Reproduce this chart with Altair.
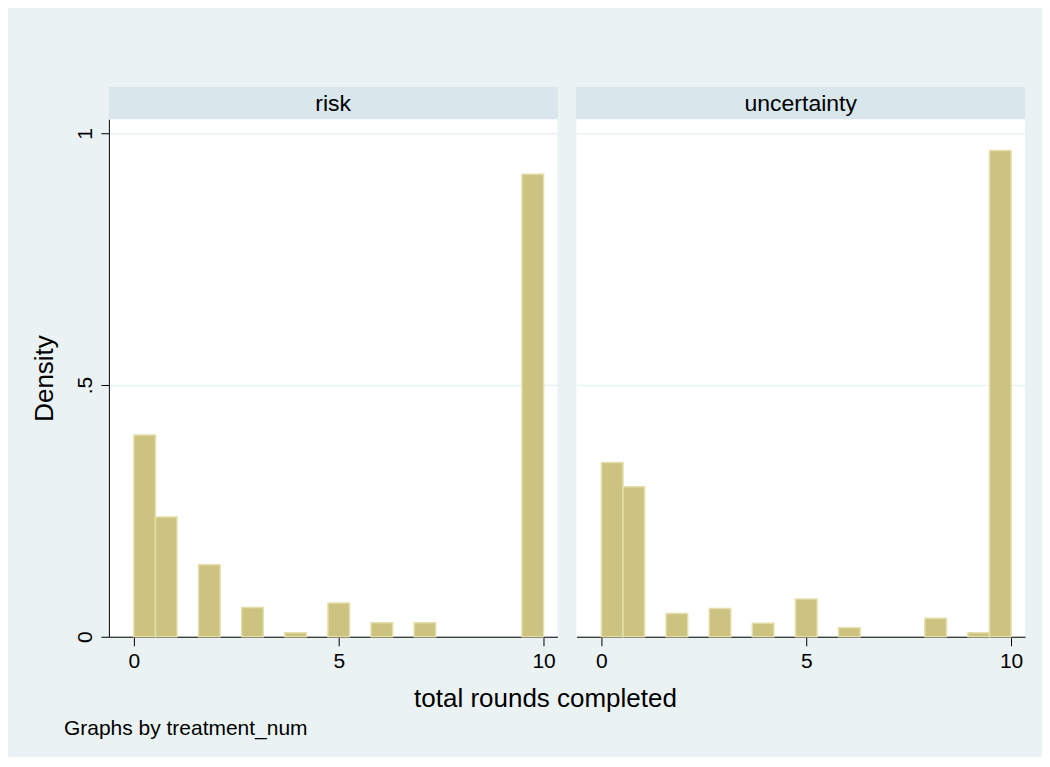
import altair as alt
import pandas as pd

# ---- data ----
panels = ["risk", "uncertainty"]
risk_rounds = [0, 1, 2, 3, 4, 5, 6, 7, 10]
risk_density = [0.401, 0.238, 0.143, 0.058, 0.008, 0.067, 0.028, 0.028, 0.919]
unc_rounds = [0, 1, 2, 3, 4, 5, 6, 8, 9, 10]
unc_density = [0.346, 0.298, 0.046, 0.056, 0.027, 0.075, 0.018, 0.037, 0.008, 0.966]
n_bins = 19
x_min, x_max = 0, 10
x_ticks = [0, 5, 10]
y_ticks = [0, 0.5, 1]
x_title = "total rounds completed"
note_text = "Graphs by treatment_num"

FONT = "Liberation Sans"
BG = "#eaf2f3"
STRIP = "#d9e6eb"
BAR_FILL = "#cbc37f"
BAR_EDGE = "#e4deaa"

PW, PH, SH = 449, 518, 32
width_bin = (x_max - x_min) / n_bins


def hist_frame(rounds, dens):
    rows = []
    for r, d in zip(rounds, dens):
        idx = min(int((r - x_min) // width_bin), n_bins - 1)
        rows.append({"start": x_min + idx * width_bin,
                     "end": x_min + (idx + 1) * width_bin,
                     "density": d})
    return pd.DataFrame(rows)


xscale = alt.Scale(domain=[-0.61, 10.34], nice=False, zero=False)
yscale = alt.Scale(domain=[0, 1.028], nice=False)


def strip(label):
    df = pd.DataFrame({"label": [label]})
    base = alt.Chart(df)
    rect = base.mark_rect(color=STRIP).encode(
        x=alt.value(0), x2=alt.value(PW), y=alt.value(0), y2=alt.value(SH))
    txt = base.mark_text(font=FONT, fontSize=23, color="black",
                         baseline="middle", align="center").encode(
        x=alt.value(PW / 2), y=alt.value(SH / 2 + 1), text="label:N")
    return alt.layer(rect, txt).properties(
        width=PW, height=SH, view=alt.ViewBackground(fill=STRIP, stroke=None))


def panel(rounds, dens, left):
    df = hist_frame(rounds, dens)
    xaxis = alt.Axis(values=x_ticks, title=None, grid=False, labelFont=FONT,
                     labelFontSize=21, labelColor="black", tickColor="black",
                     domainColor="black", tickSize=9, labelPadding=5,
                     labelAngle=0, format="d")
    if left:
        yaxis = alt.Axis(values=y_ticks, title="Density", grid=True,
                         gridColor=BG, gridWidth=1.5,
                         labelExpr="datum.value == 0.5 ? '.5' : datum.label",
                         format="~g", labelAngle=-90, labelFont=FONT,
                         labelFontSize=21, labelColor="black",
                         labelBaseline="middle", labelAlign="center",
                         tickColor="black", domainColor="black", tickSize=8,
                         labelPadding=15, titleFont=FONT, titleFontSize=26,
                         titleFontWeight="normal", titleColor="black",
                         titlePadding=17)
    else:
        yaxis = alt.Axis(values=y_ticks, title=None, grid=True, gridColor=BG,
                         gridWidth=1.5, labels=False, ticks=False,
                         domain=False)
    bars = alt.Chart(df).mark_bar(fill=BAR_FILL, stroke=BAR_EDGE,
                                  strokeWidth=1.5).encode(
        x=alt.X("start:Q", scale=xscale, axis=xaxis),
        x2="end:Q",
        y=alt.Y("density:Q", scale=yscale, axis=yaxis),
        y2=alt.datum(0),
    )
    return bars.properties(width=PW, height=PH,
                           view=alt.ViewBackground(fill="white", stroke=None))


def footer():
    df = pd.DataFrame({"t": [x_title], "n": [note_text]})
    base = alt.Chart(df)
    xt = base.mark_text(font=FONT, fontSize=26, color="black",
                        align="center", baseline="middle").encode(
        x=alt.value(437), y=alt.value(27), text="t:N")
    gb = base.mark_text(font=FONT, fontSize=21, color="black",
                        align="left", baseline="middle").encode(
        x=alt.value(-45), y=alt.value(57), text="n:N")
    return alt.layer(xt, gb).properties(
        width=900, height=75, view=alt.ViewBackground(fill=BG, stroke=None))


left = alt.vconcat(strip(panels[0]), panel(risk_rounds, risk_density, True), spacing=0)
right = alt.vconcat(strip(panels[1]), panel(unc_rounds, unc_density, False), spacing=0)
top = alt.hconcat(left, right, spacing=19)

chart = alt.vconcat(top, footer(), spacing=0).properties(
    background=BG,
    padding={"left": 24, "top": 79, "right": 17, "bottom": 10},
)

chart.save("out.html", embed_options={"renderer": "svg", "actions": False})
